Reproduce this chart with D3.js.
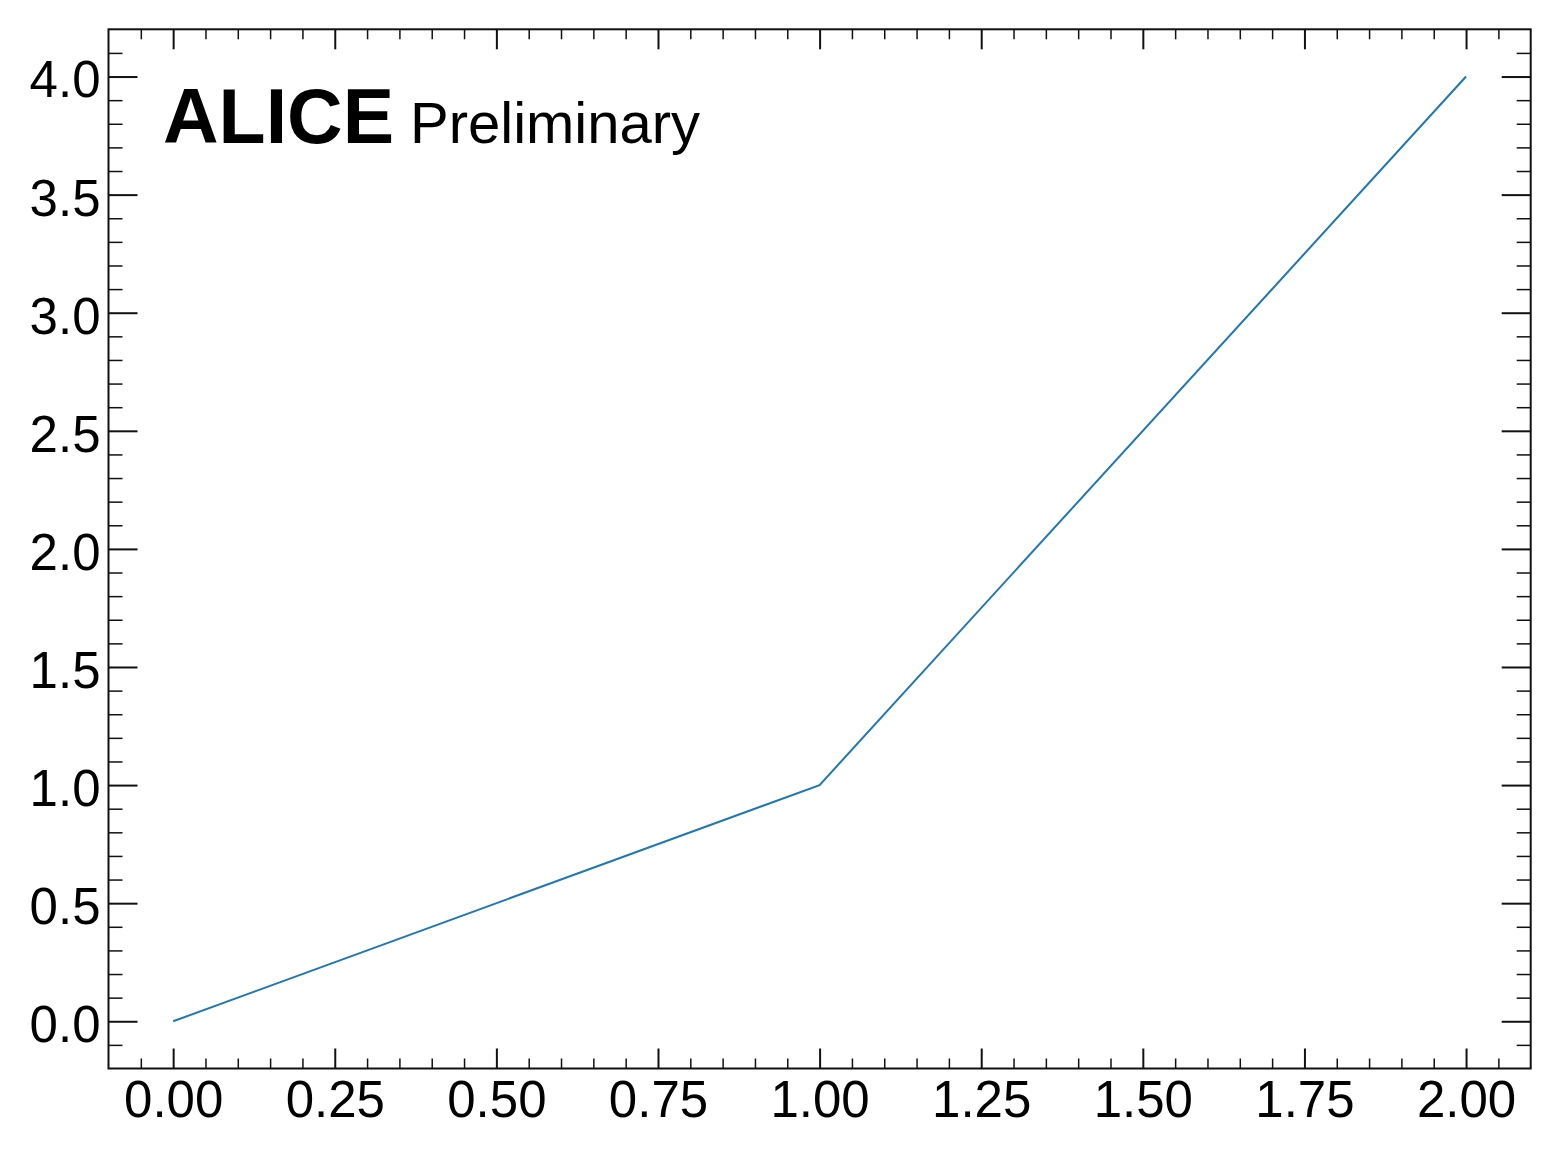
<!DOCTYPE html>
<html>
<head>
    <meta charset="UTF-8">
    <title>ALICE Preliminary</title>
    <script src="https://cdn.jsdelivr.net/npm/d3@7"></script>
    <style>
        body{margin:0;background:#fff;}
        text{font-family:"Liberation Sans",Arial,Helvetica,sans-serif;}
    </style>
</head>
<body>
<div id="chart"></div>
<script>
    // data
    var xValues=[0,1,2];
    var yValues=[0,1,4];
    var xTicks=[0,0.25,0.5,0.75,1,1.25,1.5,1.75,2];
    var yTicks=[0,0.5,1,1.5,2,2.5,3,3.5,4];

    var W=1561,H=1158;
    var pLeft=108.5,pRight=1530.7,pTop=29.3,pBottom=1068.5;

    var svg=d3.select('#chart').append('svg')
            .attr('width',W)
            .attr('height',H);

    var x=d3.scaleLinear().domain([-0.1,2.1]).range([pLeft,pRight]);
    var y=d3.scaleLinear().domain([-0.2,4.2]).range([pBottom,pTop]);

    // minor ticks every 0.05 on x, 0.1 on y
    var xMinor=d3.range(-0.05,2.1,0.05).filter(function(v){
        return Math.abs(v/0.25-Math.round(v/0.25))>1e-6;
    });
    var yMinor=d3.range(-0.1,4.2,0.1).filter(function(v){
        return Math.abs(v/0.5-Math.round(v/0.5))>1e-6;
    });

    function styleAxis(g,w){
        g.select('.domain').remove();
        g.selectAll('line').attr('stroke','#111').attr('stroke-width',w);
    }

    // x axes
    svg.append('g').attr('transform','translate(0,'+pBottom+')')
            .call(d3.axisBottom(x).tickValues(xMinor).tickSizeInner(-10).tickSizeOuter(0).tickFormat(''))
            .call(styleAxis,1.5);
    svg.append('g').attr('transform','translate(0,'+pTop+')')
            .call(d3.axisTop(x).tickValues(xMinor).tickSizeInner(-10).tickSizeOuter(0).tickFormat(''))
            .call(styleAxis,1.5);
    var gx=svg.append('g').attr('transform','translate(0,'+pBottom+')')
            .call(d3.axisBottom(x).tickValues(xTicks).tickSizeInner(-20).tickSizeOuter(0).tickPadding(12).tickFormat(d3.format('.2f')))
            .call(styleAxis,2);
    gx.selectAll('text').attr('font-size',51).attr('fill','#000').attr('dy','0.72em');
    svg.append('g').attr('transform','translate(0,'+pTop+')')
            .call(d3.axisTop(x).tickValues(xTicks).tickSizeInner(-20).tickSizeOuter(0).tickFormat(''))
            .call(styleAxis,2);

    // y axes
    svg.append('g').attr('transform','translate('+pLeft+',0)')
            .call(d3.axisLeft(y).tickValues(yMinor).tickSizeInner(-14).tickSizeOuter(0).tickFormat(''))
            .call(styleAxis,1.5);
    svg.append('g').attr('transform','translate('+pRight+',0)')
            .call(d3.axisRight(y).tickValues(yMinor).tickSizeInner(-14).tickSizeOuter(0).tickFormat(''))
            .call(styleAxis,1.5);
    var gy=svg.append('g').attr('transform','translate('+pLeft+',0)')
            .call(d3.axisLeft(y).tickValues(yTicks).tickSizeInner(-29).tickSizeOuter(0).tickPadding(8).tickFormat(d3.format('.1f')))
            .call(styleAxis,2);
    gy.selectAll('text').attr('font-size',51).attr('fill','#000').attr('dy','0.4em');
    svg.append('g').attr('transform','translate('+pRight+',0)')
            .call(d3.axisRight(y).tickValues(yTicks).tickSizeInner(-29).tickSizeOuter(0).tickFormat(''))
            .call(styleAxis,2);

    // frame
    svg.append('rect')
            .attr('x',pLeft).attr('y',pTop)
            .attr('width',pRight-pLeft).attr('height',pBottom-pTop)
            .attr('fill','none').attr('stroke','#111').attr('stroke-width',2);

    // line
    var line=d3.line()
            .x(function(d,i){return x(xValues[i])})
            .y(function(d,i){return y(yValues[i])});
    svg.append('path')
            .datum(xValues)
            .attr('d',line)
            .attr('fill','none')
            .attr('stroke','#1f77b4')
            .attr('stroke-width',2);

    // label
    var label=svg.append('text')
            .attr('x',163)
            .attr('y',143);
    label.append('tspan')
            .attr('font-weight','bold')
            .attr('font-size',77)
            .text('ALICE');
    label.append('tspan')
            .attr('x',410)
            .attr('font-size',58)
            .text('Preliminary');
</script>
</body>
</html>
